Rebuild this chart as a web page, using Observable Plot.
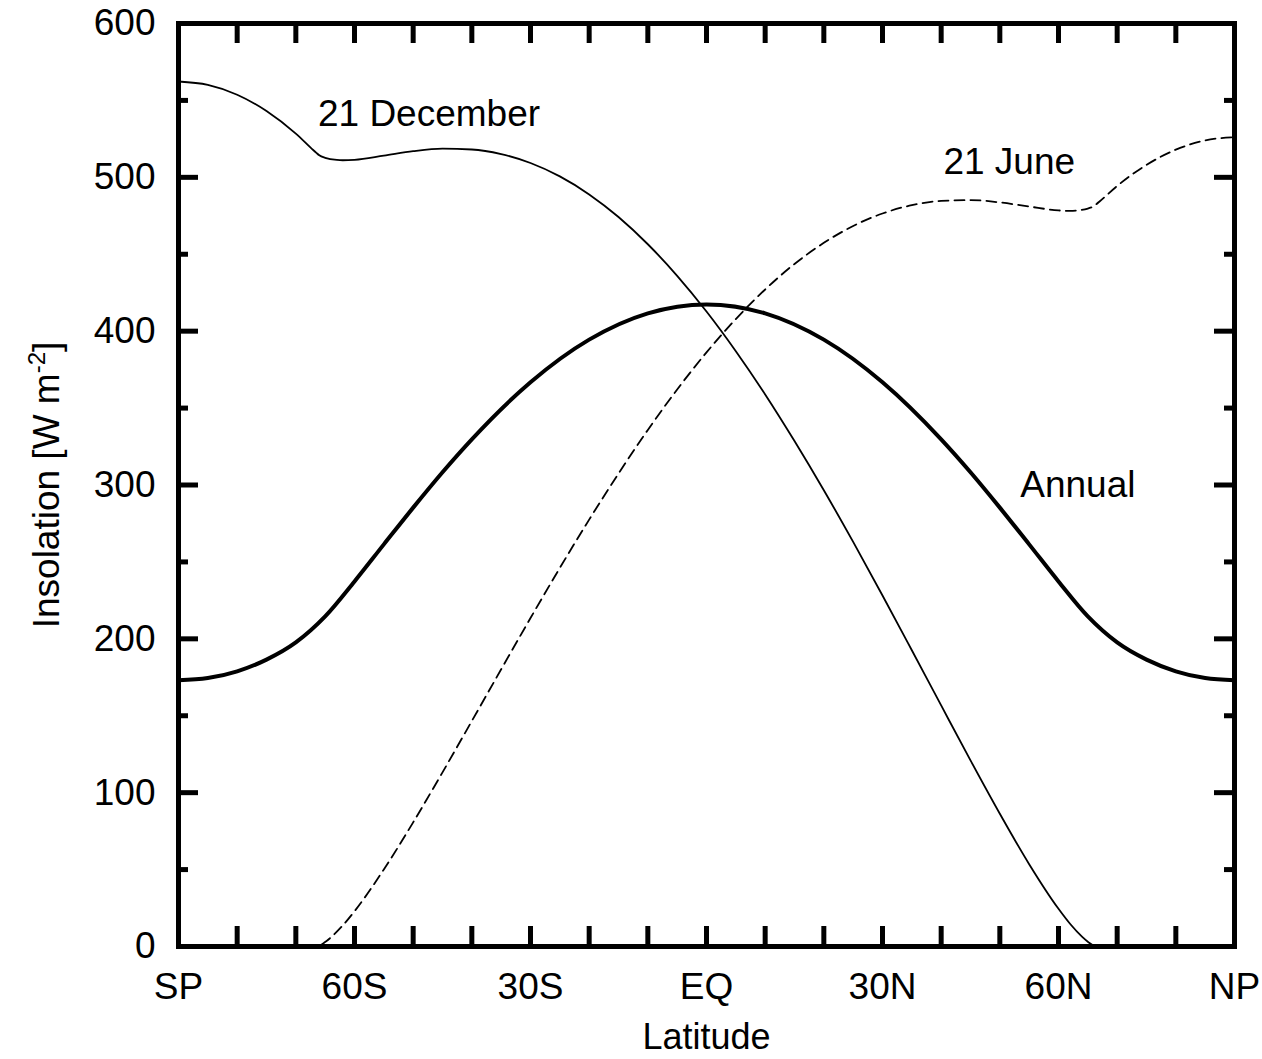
<!DOCTYPE html>
<html>
<head>
<meta charset="utf-8">
<script src="https://cdn.jsdelivr.net/npm/d3@7"></script>
<script src="https://cdn.jsdelivr.net/npm/@observablehq/plot@0.6"></script>
<style>
  html, body { margin: 0; padding: 0; background: #fff; }
  #chart svg { display: block; }
</style>
</head>
<body>
<div id="chart"></div>
<script>
// ---- Data (W m^-2) ----
const annualLat = [-90, -85, -80, -75, -70, -65, -60, -55, -50, -45, -40, -30, -20, -10, 0, 10, 20, 30, 40, 45, 50, 55, 60, 65, 70, 75, 80, 85, 90];
const annualVal = [173.1, 174.5, 178.9, 186.5, 197.7, 214.6, 237.3, 261.4, 285.3, 308.3, 329.7, 366.8, 394.5, 411.6, 417.4, 411.6, 394.5, 366.8, 329.7, 308.3, 285.3, 261.4, 237.3, 214.6, 197.7, 186.5, 178.9, 174.5, 173.1];

const decLat = [-90, -85, -80, -75, -70, -67, -66.5, -66, -65, -63, -62, -60, -55, -50, -45, -40, -35, -30, -25, -20, -15, -10, -5, 0, 5, 10, 15, 20, 25, 30, 35, 40, 45, 50, 55, 60, 62, 64, 65, 66.5, 70, 80, 90];
const decVal = [562.3, 560.1, 553.7, 543.1, 528.4, 517.6, 515.9, 514.3, 512.7, 511.3, 511.1, 511.4, 514.1, 517.0, 518.6, 518.1, 515.1, 509.3, 500.6, 488.9, 474.2, 456.5, 436.0, 412.8, 387.0, 358.9, 328.6, 296.6, 263.0, 228.2, 192.6, 156.7, 121.0, 86.3, 53.5, 24.5, 14.6, 6.4, 3.1, 0, 0, 0, 0];

const junLat = [-90, -80, -70, -66.5, -65, -64, -62, -60, -55, -50, -45, -40, -35, -30, -25, -20, -15, -10, -5, 0, 5, 10, 15, 20, 25, 30, 35, 40, 45, 50, 55, 60, 62, 63, 65, 66, 66.5, 67, 70, 75, 80, 85, 90];
const junVal = [0, 0, 0, 0, 2.9, 6.0, 13.7, 22.9, 50.1, 80.7, 113.2, 146.6, 180.2, 213.5, 246.1, 277.5, 307.4, 335.8, 362.1, 386.2, 407.9, 427.1, 443.7, 457.4, 468.4, 476.5, 481.9, 484.7, 485.2, 483.7, 481.0, 478.5, 478.2, 478.4, 479.7, 481.2, 482.7, 484.3, 494.4, 508.1, 518.0, 524.0, 526.1];

// ---- Axes / ticks ----
const xLabelValues = [-90, -60, -30, 0, 30, 60, 90];
const xLabelText = ["SP", "60S", "30S", "EQ", "30N", "60N", "NP"];
const xTickValues = [-80, -70, -60, -50, -40, -30, -20, -10, 0, 10, 20, 30, 40, 50, 60, 70, 80];
const yLabelValues = [0, 100, 200, 300, 400, 500, 600];
const yMajorTicks = [100, 200, 300, 400, 500];
const yMinorTicks = [50, 150, 250, 350, 450, 550];

// ---- Annotations ----
const labelText = ["21 December", "21 June", "Annual"];
const labelLat = [-47.3, 51.6, 63.3];
const labelVal = [541, 510, 300];

const rows = (lat, val) => lat.map((x, i) => ({lat: x, val: val[i]}));
const annual = rows(annualLat, annualVal);
const dec = rows(decLat, decVal);
const jun = rows(junLat, junVal);
const labels = labelText.map((t, i) => ({text: t, lat: labelLat[i], val: labelVal[i]}));

const W = 1262, H = 1059, ML = 178, MR = 28, MT = 23, MB = 113;
const FW = W - ML - MR, FH = H - MT - MB;
const TL = 20, TM = 10, TW = 5;

const chart = Plot.plot({
  width: W, height: H,
  marginLeft: ML, marginRight: MR, marginTop: MT, marginBottom: MB,
  style: {fontFamily: "'Liberation Sans', Arial, Helvetica, sans-serif", fontSize: "37px", color: "#000", background: "#fff"},
  x: {domain: [-90, 90]},
  y: {domain: [0, 600]},
  marks: [
    Plot.line(annual, {x: "lat", y: "val", stroke: "#000", strokeWidth: 4, curve: "monotone-x"}),
    Plot.line(dec, {x: "lat", y: "val", stroke: "#000", strokeWidth: 1.8, curve: "monotone-x"}),
    Plot.line(jun, {x: "lat", y: "val", stroke: "#000", strokeWidth: 1.8, strokeDasharray: "10,6", curve: "monotone-x"}),
    Plot.text(labels, {x: "lat", y: "val", text: "text", textAnchor: "middle", lineAnchor: "middle", fill: "#000", fontSize: 37}),
    // inward ticks
    Plot.ruleX(xTickValues, {x: d => d, insetTop: FH - TL, stroke: "#000", strokeWidth: TW}),
    Plot.ruleX(xTickValues, {x: d => d, insetBottom: FH - TL, stroke: "#000", strokeWidth: TW}),
    Plot.ruleY(yMajorTicks, {y: d => d, insetRight: FW - TL, stroke: "#000", strokeWidth: TW}),
    Plot.ruleY(yMajorTicks, {y: d => d, insetLeft: FW - TL, stroke: "#000", strokeWidth: TW}),
    Plot.ruleY(yMinorTicks, {y: d => d, insetRight: FW - TM, stroke: "#000", strokeWidth: TW}),
    Plot.ruleY(yMinorTicks, {y: d => d, insetLeft: FW - TM, stroke: "#000", strokeWidth: TW}),
    Plot.frame({stroke: "#000", strokeWidth: 5}),
    Plot.axisX({ticks: xLabelValues, tickSize: 0, tickPadding: 26, label: null,
      tickFormat: d => xLabelText[xLabelValues.indexOf(d)], fontSize: 37}),
    Plot.axisY({ticks: yLabelValues, tickSize: 0, tickPadding: 23, label: null, fontSize: 37}),
    Plot.text(["Latitude"], {frameAnchor: "bottom", dy: 77, text: d => d, textAnchor: "middle", lineAnchor: "top", fill: "#000", fontSize: 36}),
    Plot.text(["Insolation [W m-2]"], {frameAnchor: "left", dx: -131, rotate: -90, text: d => d, textAnchor: "middle", lineAnchor: "middle", fill: "#000", fontSize: 37})
  ]
});
document.getElementById("chart").append(chart);

// superscript for the unit
chart.querySelectorAll("text").forEach(t => {
  if (t.textContent === "Insolation [W m-2]") {
    while (t.firstChild) t.removeChild(t.firstChild);
    const ns = "http://www.w3.org/2000/svg";
    const a = document.createElementNS(ns, "tspan"); a.textContent = "Insolation [W m";
    const b = document.createElementNS(ns, "tspan"); b.textContent = "-2"; b.setAttribute("dy", "-14"); b.setAttribute("font-size", "24");
    const c = document.createElementNS(ns, "tspan"); c.textContent = "]"; c.setAttribute("dy", "14");
    t.append(a, b, c);
  }
});
</script>
</body>
</html>
